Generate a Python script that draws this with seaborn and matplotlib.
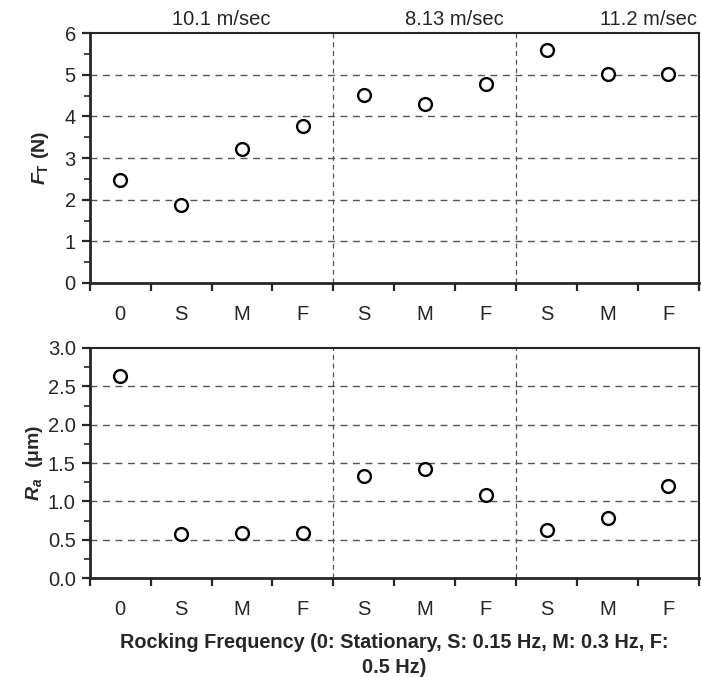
import matplotlib
matplotlib.use("Agg")
import matplotlib.pyplot as plt
from matplotlib.ticker import MultipleLocator, FixedLocator
import numpy as np
import seaborn as sns

# data
freq_labels = ['0', 'S', 'M', 'F', 'S', 'M', 'F', 'S', 'M', 'F']
speeds = ['10.1 m/sec', '8.13 m/sec', '11.2 m/sec']
speed_x = [1.66, 5.48, 8.68]
group_breaks = [3.5, 6.5]
force_vals = [2.48, 1.88, 3.23, 3.77, 4.51, 4.30, 4.78, 5.59, 5.01, 5.01]
ra_vals = [2.64, 0.58, 0.59, 0.59, 1.33, 1.42, 1.09, 0.63, 0.78, 1.20]

sns.set_style("ticks")
plt.rcParams['font.family'] = ['Liberation Sans', 'DejaVu Sans']
plt.rcParams['mathtext.fontset'] = 'custom'
plt.rcParams['mathtext.rm'] = 'Liberation Sans:bold'
plt.rcParams['mathtext.it'] = 'Liberation Sans:italic:bold'
plt.rcParams['mathtext.bf'] = 'Liberation Sans:bold'

fig = plt.figure(figsize=(7.01, 6.77), dpi=100)
ax1 = fig.add_axes([0.128, 0.582, 0.869, 0.369])
ax2 = fig.add_axes([0.128, 0.146, 0.869, 0.340])

xpos = np.arange(len(freq_labels))


def style_axis(ax, vals, ymax, major, minor, ylabel, lpad):
    for y in np.arange(major, ymax, major):
        ax.axhline(y, color='#555555', lw=1.0, ls=(0, (5, 4)), zorder=1)
    for xb in group_breaks:
        ax.axvline(xb, color='#555555', lw=0.9, ls=(0, (4, 3)), zorder=1)
    sns.scatterplot(x=xpos, y=vals, ax=ax, marker='o', s=85, facecolor='white',
                    edgecolor='black', linewidth=1.7, zorder=3)
    ax.set_xlim(-0.5, len(freq_labels) - 0.5)
    ax.set_ylim(0, ymax)
    ax.xaxis.set_major_locator(FixedLocator(np.arange(-0.5, len(freq_labels), 1)))
    ax.xaxis.set_minor_locator(FixedLocator(xpos))
    ax.set_xticklabels([], minor=False)
    ax.set_xticklabels(freq_labels, minor=True)
    ax.tick_params(axis='x', which='major', length=6, width=1.6, direction='out')
    ax.tick_params(axis='x', which='minor', length=0, pad=16, labelsize=14.5)
    ax.yaxis.set_major_locator(MultipleLocator(major))
    ax.yaxis.set_minor_locator(MultipleLocator(major / 2))
    ax.tick_params(axis='y', which='major', length=6, width=1.6, labelsize=14.5, pad=4)
    ax.tick_params(axis='y', which='minor', length=4, width=1.2)
    for side in ['left', 'bottom']:
        ax.spines[side].set_linewidth(2.0)
    for side in ['top', 'right']:
        ax.spines[side].set_visible(True)
        ax.spines[side].set_linewidth(1.5)
    ax.set_xlabel('')
    ax.set_ylabel(ylabel, fontsize=14, fontweight='bold', labelpad=lpad)


style_axis(ax1, force_vals, 6, 1, 0.5, r'$F_\mathrm{T}$ (N)', 10)
ax1.set_yticklabels([str(int(v)) for v in ax1.get_yticks()])
style_axis(ax2, ra_vals, 3.0, 0.5, 0.25, r'$R_a$  (μm)', 2)
ax2.set_yticklabels(['%.1f' % v for v in ax2.get_yticks()])

for label, xs in zip(speeds, speed_x):
    ax1.text(xs, 6.1, label, ha='center', va='bottom', fontsize=14.5)

ax2.set_xlabel('Rocking Frequency (0: Stationary, S: 0.15 Hz, M: 0.3 Hz, F:\n0.5 Hz)',
               fontsize=14.3, fontweight='bold', labelpad=10, linespacing=1.35)

fig.savefig('out.png', dpi=100)
